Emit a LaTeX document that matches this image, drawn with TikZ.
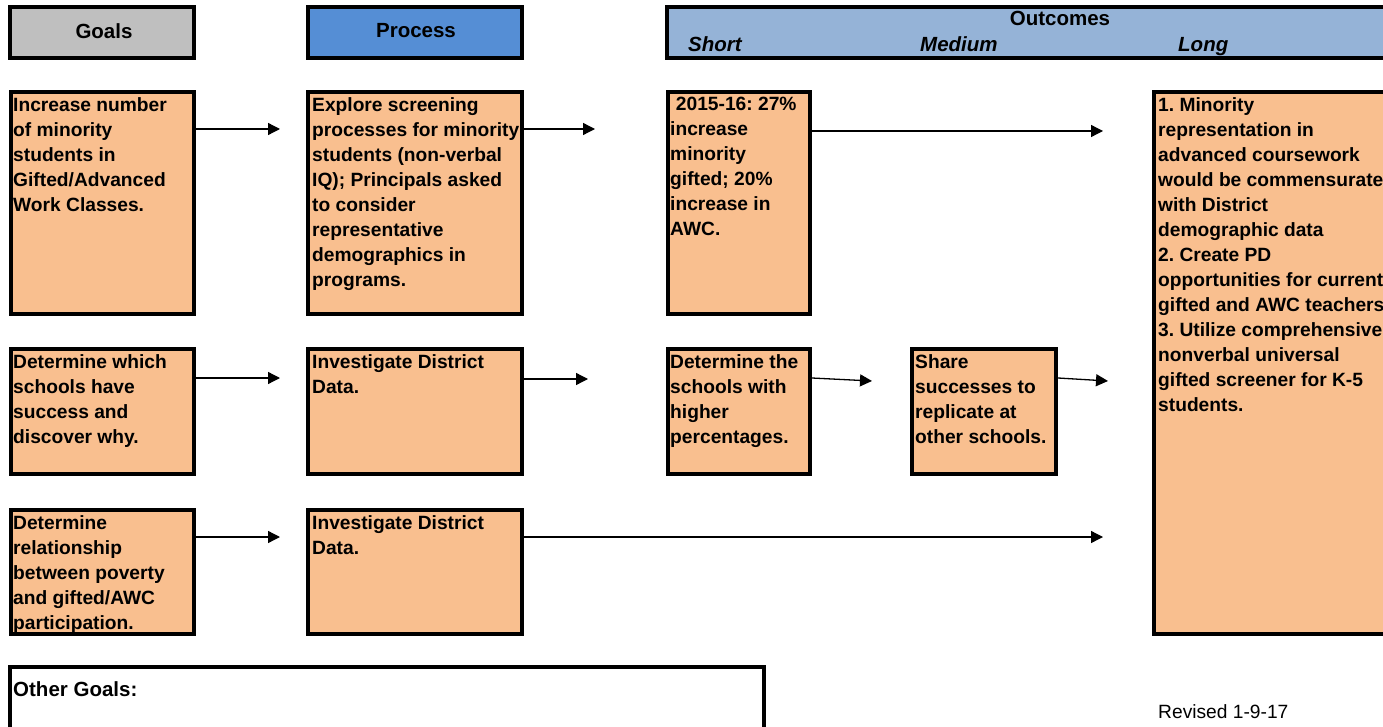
\documentclass[tikz,border=0pt]{standalone}
\usepackage{fontspec}
\setmainfont{Liberation Sans}
\usetikzlibrary{arrows.meta}
\frenchspacing

\definecolor{peach}{HTML}{F9BF8F}
\definecolor{headgray}{HTML}{BFBFBF}
\definecolor{headblue}{HTML}{558ED5}
\definecolor{headlight}{HTML}{95B3D7}

\tikzset{
  cell/.style={draw=black, line width=3.6pt, fill=peach},
  header/.style={draw=black, line width=3.6pt},
  body/.style={anchor=north west, align=left, inner sep=0pt,
    font=\bfseries\fontsize{19.2}{25}\selectfont},
  headtext/.style={inner sep=0pt, font=\bfseries\fontsize{20.5}{22}\selectfont},
  link/.style={line width=1.3pt, -{Triangle[length=12pt,width=12pt]}}
}

\begin{document}
\begin{tikzpicture}[x=1pt, y=-1pt]
\useasboundingbox (0,0) rectangle (1383,727);

% column headers
\path[header, fill=headgray] (10,7) rectangle (194,58);
\node[headtext] (hgoals) at (104,31) {Goals};
\path[header, fill=headblue] (308,7) rectangle (522,58);
\node[headtext] (hproc) at (416,31) {Process};
\path[header, fill=headlight] (667,7) rectangle (1400,58);
\node[headtext, anchor=base] (hout) at (1060,26) {Outcomes};
\node[headtext, anchor=base west] (hshort) at (688,52) {\itshape Short};
\node[headtext, anchor=base west] (hmed) at (920,52) {\itshape Medium};
\node[headtext, anchor=base west] (hlong) at (1178,52) {\itshape Long};

% row 1
\path[cell] (11,92) rectangle (194,314);
\node[body] (g1) at (13,97) {Increase number\\of minority\\students in\\Gifted/Advanced\\Work Classes.};
\path[cell] (308,92) rectangle (522,314);
\node[body] (p1) at (312,97) {Explore screening\\processes for minority\\students (non-verbal\\IQ); Principals asked\\to consider\\representative\\demographics in\\programs.};
\path[cell] (668,92) rectangle (810,314);
\node[body] (s1) at (670,97) {\hspace{0.3em}2015-16: 27\%\\increase\\minority\\gifted; 20\%\\increase in\\AWC.};

% long-term outcomes
\path[cell] (1154,92) rectangle (1400,634);
\node[body] (l1) at (1158,97) {1. Minority\\representation in\\advanced coursework\\would be commensurate\\with District\\demographic data\\2. Create PD\\opportunities for current\\gifted and AWC teachers\\3. Utilize comprehensive\\nonverbal universal\\gifted screener for K-5\\students.};

% row 2
\path[cell] (11,349) rectangle (194,474);
\node[body] (g2) at (13,354) {Determine which\\schools have\\success and\\discover why.};
\path[cell] (308,349) rectangle (522,474);
\node[body] (p2) at (312,354) {Investigate District\\Data.};
\path[cell] (668,349) rectangle (810,474);
\node[body] (s2) at (670,354) {Determine the\\schools with\\higher\\percentages.};
\path[cell] (912,349) rectangle (1056,474);
\node[body] (m2) at (915,354) {Share\\successes to\\replicate at\\other schools.};

% row 3
\path[cell] (11,510) rectangle (194,634);
\node[body] (g3) at (13,515) {Determine\\relationship\\between poverty\\and gifted/AWC\\participation.};
\path[cell] (308,510) rectangle (522,634);
\node[body] (p3) at (312,515) {Investigate District\\Data.};

% connectors
\coordinate (a1) at (280,129);
\coordinate (b1) at (595,129);
\coordinate (c1) at (1103,131);
\coordinate (a2) at (280,378);
\coordinate (b2) at (588,379);
\coordinate (c2) at (872,381);
\coordinate (d2) at (1108,381);
\coordinate (a3) at (280,537);
\coordinate (b3) at (1103,537);

\draw[link] (196,129) -- (a1);
\draw[link] (524,129) -- (b1);
\draw[link] (812,131) -- (c1);
\draw[link] (196,378) -- (a2);
\draw[link] (524,379) -- (b2);
\draw[link] (812,378) -- (c2);
\draw[link] (1058,378) -- (d2);
\draw[link] (196,537) -- (a3);
\draw[link] (524,537) -- (b3);

% other goals
\path[header] (10,667) rectangle (764,740);
\node[headtext, anchor=base west] (og) at (13,696) {Other Goals:};

\node[anchor=base west, inner sep=0pt, font=\fontsize{19.2}{22}\selectfont] (rev) at (1158,718) {Revised 1-9-17};
\end{tikzpicture}
\end{document}
